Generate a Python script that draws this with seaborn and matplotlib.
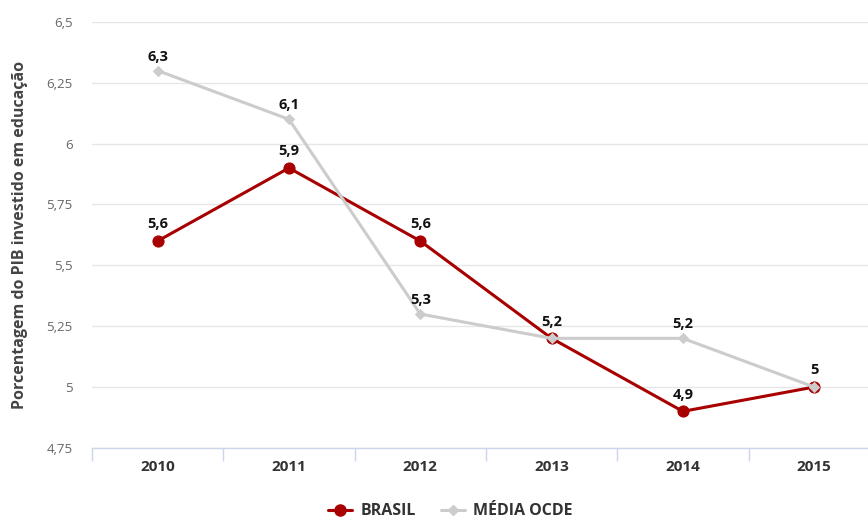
import matplotlib
matplotlib.use("Agg")
import matplotlib.pyplot as plt
import seaborn as sns
import pandas as pd
from matplotlib.ticker import FixedLocator, FuncFormatter
from matplotlib.lines import Line2D

anos = ["2010", "2011", "2012", "2013", "2014", "2015"]
brasil = [5.6, 5.9, 5.6, 5.2, 4.9, 5.0]
ocde = [6.3, 6.1, 5.3, 5.2, 5.2, 5.0]
series_names = ["BRASIL", "MÉDIA OCDE"]
yticks = [4.75, 5.0, 5.25, 5.5, 5.75, 6.0, 6.25, 6.5]
ylabel = "Porcentagem do PIB investido em educação"

sns.set_theme(style="white")
plt.rcParams["font.family"] = ["Open Sans", "DejaVu Sans"]

RED = "#a80000"
GRAY = "#cccccc"

df = pd.DataFrame({
    "x": list(range(len(anos))) * 2,
    "valor": brasil + ocde,
    "serie": [series_names[0]] * len(anos) + [series_names[1]] * len(anos),
})

fig = plt.figure(figsize=(8.68, 5.22), dpi=100)
ax = fig.add_axes([0.106, 0.142, 0.894, 0.816])

sns.lineplot(data=df[df.serie == series_names[0]], x="x", y="valor", ax=ax,
             color=RED, linewidth=2.2, marker="o", markersize=8,
             markeredgecolor=RED, zorder=3, legend=False)
sns.lineplot(data=df[df.serie == series_names[1]], x="x", y="valor", ax=ax,
             color=GRAY, linewidth=2.2, marker="D", markersize=5,
             markeredgecolor=GRAY, zorder=4, legend=False)


def fmt(v):
    return f"{v:g}".replace(".", ",")


for i, (b, o) in enumerate(zip(brasil, ocde)):
    ax.annotate(fmt(b), (i, b), xytext=(0, 7), textcoords="offset points",
                ha="center", va="bottom", fontsize=10.5, fontweight="bold",
                color="#111111", zorder=6)
    if o != b:
        ax.annotate(fmt(o), (i, o), xytext=(0, 5), textcoords="offset points",
                    ha="center", va="bottom", fontsize=10.5, fontweight="bold",
                    color="#111111", zorder=6)

ax.yaxis.set_major_locator(FixedLocator(yticks))
ax.yaxis.set_major_formatter(FuncFormatter(lambda v, p: fmt(v)))
ax.set_xticks(range(len(anos)))
ax.set_xticklabels(anos)
ax.set_xticks([i - 0.5 for i in range(len(anos))], minor=True)
ax.set_xlim(-0.5, 5.41)
ax.set_ylim(4.75, 6.5)

ax.grid(axis="y", color="#e6e6e6", linewidth=1)
ax.set_axisbelow(True)
for s in ["top", "right", "left"]:
    ax.spines[s].set_visible(False)
ax.spines["bottom"].set_color("#ccd6eb")
ax.spines["bottom"].set_linewidth(1)

ax.tick_params(axis="y", length=0, labelsize=9.5, labelcolor="#666666", pad=14)
ax.tick_params(axis="x", which="major", bottom=False, length=0, labelsize=11,
               labelcolor="#333333", pad=9)
ax.tick_params(axis="x", which="minor", bottom=True, length=9,
               color="#ccd6eb", width=1)
for t in ax.get_xticklabels():
    t.set_fontweight("bold")

ax.set_xlabel("")
ax.set_ylabel(ylabel, fontsize=11.5, fontweight="bold", color="#444444",
              labelpad=13)

handles = [
    Line2D([0], [0], color=RED, linewidth=2.2, marker="o", markersize=8),
    Line2D([0], [0], color=GRAY, linewidth=2.2, marker="D", markersize=5),
]
leg = fig.legend(handles, series_names, loc="lower center",
                 bbox_to_anchor=(0.519, -0.022), ncol=2, frameon=False,
                 handlelength=1.5, columnspacing=1.6, handletextpad=0.5,
                 prop={"weight": "bold", "size": 11.5})
for t in leg.get_texts():
    t.set_color("#333333")

fig.savefig("out.png", dpi=100)
